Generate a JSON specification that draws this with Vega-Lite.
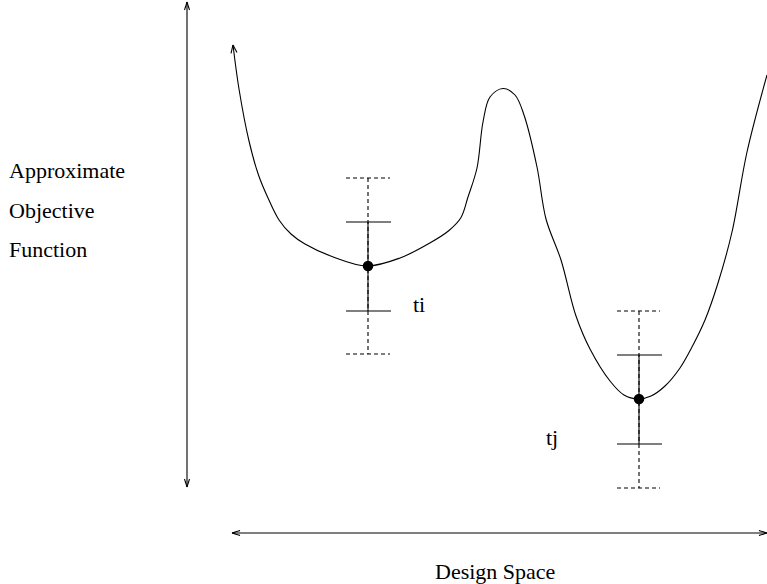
{
  "$schema": "https://vega.github.io/schema/vega-lite/v6.json",
  "width": 767,
  "height": 584,
  "padding": 0,
  "autosize": {"type": "none"},
  "background": "white",
  "config": {"view": {"stroke": null}},
  "datasets": {
    "curve": [
      {"x": 233, "y": 539}, {"x": 239, "y": 495}, {"x": 249, "y": 443}, {"x": 258.5, "y": 409},
      {"x": 268, "y": 386}, {"x": 279, "y": 364}, {"x": 291, "y": 350}, {"x": 305, "y": 340},
      {"x": 332, "y": 327.5}, {"x": 367, "y": 318},
      {"x": 400, "y": 326}, {"x": 429, "y": 340.5}, {"x": 449, "y": 353.5}, {"x": 461, "y": 366.5},
      {"x": 468, "y": 387}, {"x": 477, "y": 416}, {"x": 483, "y": 462}, {"x": 490, "y": 487},
      {"x": 503, "y": 495.5}, {"x": 515, "y": 489}, {"x": 524, "y": 469}, {"x": 537, "y": 417},
      {"x": 546, "y": 365}, {"x": 561, "y": 324}, {"x": 576, "y": 268}, {"x": 590, "y": 235},
      {"x": 610, "y": 203}, {"x": 624, "y": 189}, {"x": 638, "y": 185}, {"x": 651, "y": 188},
      {"x": 665, "y": 198}, {"x": 680, "y": 216}, {"x": 692, "y": 237}, {"x": 705, "y": 264},
      {"x": 718, "y": 301}, {"x": 732, "y": 352}, {"x": 747, "y": 432}, {"x": 767, "y": 509}
    ],
    "segments": [
      {"x": 187, "y": 582, "x2": 187, "y2": 97, "kind": "solid"},
      {"x": 187, "y": 582, "x2": 184.5, "y2": 574, "kind": "solid"},
      {"x": 187, "y": 582, "x2": 189.5, "y2": 574, "kind": "solid"},
      {"x": 187, "y": 97, "x2": 184.5, "y2": 105, "kind": "solid"},
      {"x": 187, "y": 97, "x2": 189.5, "y2": 105, "kind": "solid"},
      {"x": 232, "y": 51, "x2": 767, "y2": 51, "kind": "solid"},
      {"x": 232, "y": 51, "x2": 240, "y2": 53.5, "kind": "solid"},
      {"x": 232, "y": 51, "x2": 240, "y2": 48.5, "kind": "solid"},
      {"x": 767, "y": 51, "x2": 759, "y2": 53.5, "kind": "solid"},
      {"x": 767, "y": 51, "x2": 759, "y2": 48.5, "kind": "solid"},
      {"x": 233, "y": 539, "x2": 237, "y2": 531.5, "kind": "solid"},
      {"x": 233, "y": 539, "x2": 231, "y2": 530.7, "kind": "solid"},
      {"x": 368, "y": 406, "x2": 368, "y2": 230, "kind": "dashed"},
      {"x": 346, "y": 406, "x2": 390, "y2": 406, "kind": "dashed"},
      {"x": 346, "y": 230, "x2": 390, "y2": 230, "kind": "dashed"},
      {"x": 368, "y": 362, "x2": 368, "y2": 273, "kind": "solid"},
      {"x": 346, "y": 362, "x2": 391, "y2": 362, "kind": "solid"},
      {"x": 346, "y": 273, "x2": 391, "y2": 273, "kind": "solid"},
      {"x": 639, "y": 273, "x2": 639, "y2": 96, "kind": "dashed"},
      {"x": 617, "y": 273, "x2": 660, "y2": 273, "kind": "dashed"},
      {"x": 617, "y": 96, "x2": 660, "y2": 96, "kind": "dashed"},
      {"x": 639, "y": 229, "x2": 639, "y2": 140, "kind": "solid"},
      {"x": 617, "y": 229, "x2": 662, "y2": 229, "kind": "solid"},
      {"x": 617, "y": 140, "x2": 662, "y2": 140, "kind": "solid"}
    ],
    "points": [
      {"x": 368, "y": 318, "name": "ti"},
      {"x": 639, "y": 185, "name": "tj"}
    ],
    "labels": [
      {"x": 9, "y": 406, "text": "Approximate"},
      {"x": 9, "y": 366, "text": "Objective"},
      {"x": 9, "y": 327, "text": "Function"},
      {"x": 413, "y": 272, "text": "ti"},
      {"x": 546, "y": 139, "text": "tj"},
      {"x": 435, "y": 5, "text": "Design Space"}
    ]
  },
  "encoding": {
    "x": {"field": "x", "type": "quantitative", "scale": {"domain": [0, 767], "nice": false, "zero": false}, "axis": null},
    "y": {"field": "y", "type": "quantitative", "scale": {"domain": [0, 584], "nice": false, "zero": false}, "axis": null}
  },
  "layer": [
    {
      "data": {"name": "curve"},
      "mark": {"type": "line", "interpolate": "catmull-rom", "color": "#000000", "strokeWidth": 1.1},
      "encoding": {}
    },
    {
      "data": {"name": "segments"},
      "mark": {"type": "rule", "color": "#000000", "strokeWidth": 1.1},
      "encoding": {
        "x2": {"field": "x2"},
        "y2": {"field": "y2"},
        "strokeDash": {"field": "kind", "type": "nominal", "scale": {"domain": ["solid", "dashed"], "range": [[1, 0], [4, 3]]}, "legend": null}
      }
    },
    {
      "data": {"name": "points"},
      "mark": {"type": "point", "shape": "circle", "filled": true, "color": "#000000", "size": 110, "opacity": 1},
      "encoding": {}
    },
    {
      "data": {"name": "labels"},
      "mark": {"type": "text", "align": "left", "baseline": "alphabetic", "font": "Times New Roman, Liberation Serif, serif", "fontSize": 22, "color": "#000000"},
      "encoding": {"text": {"field": "text", "type": "nominal"}}
    }
  ]
}
